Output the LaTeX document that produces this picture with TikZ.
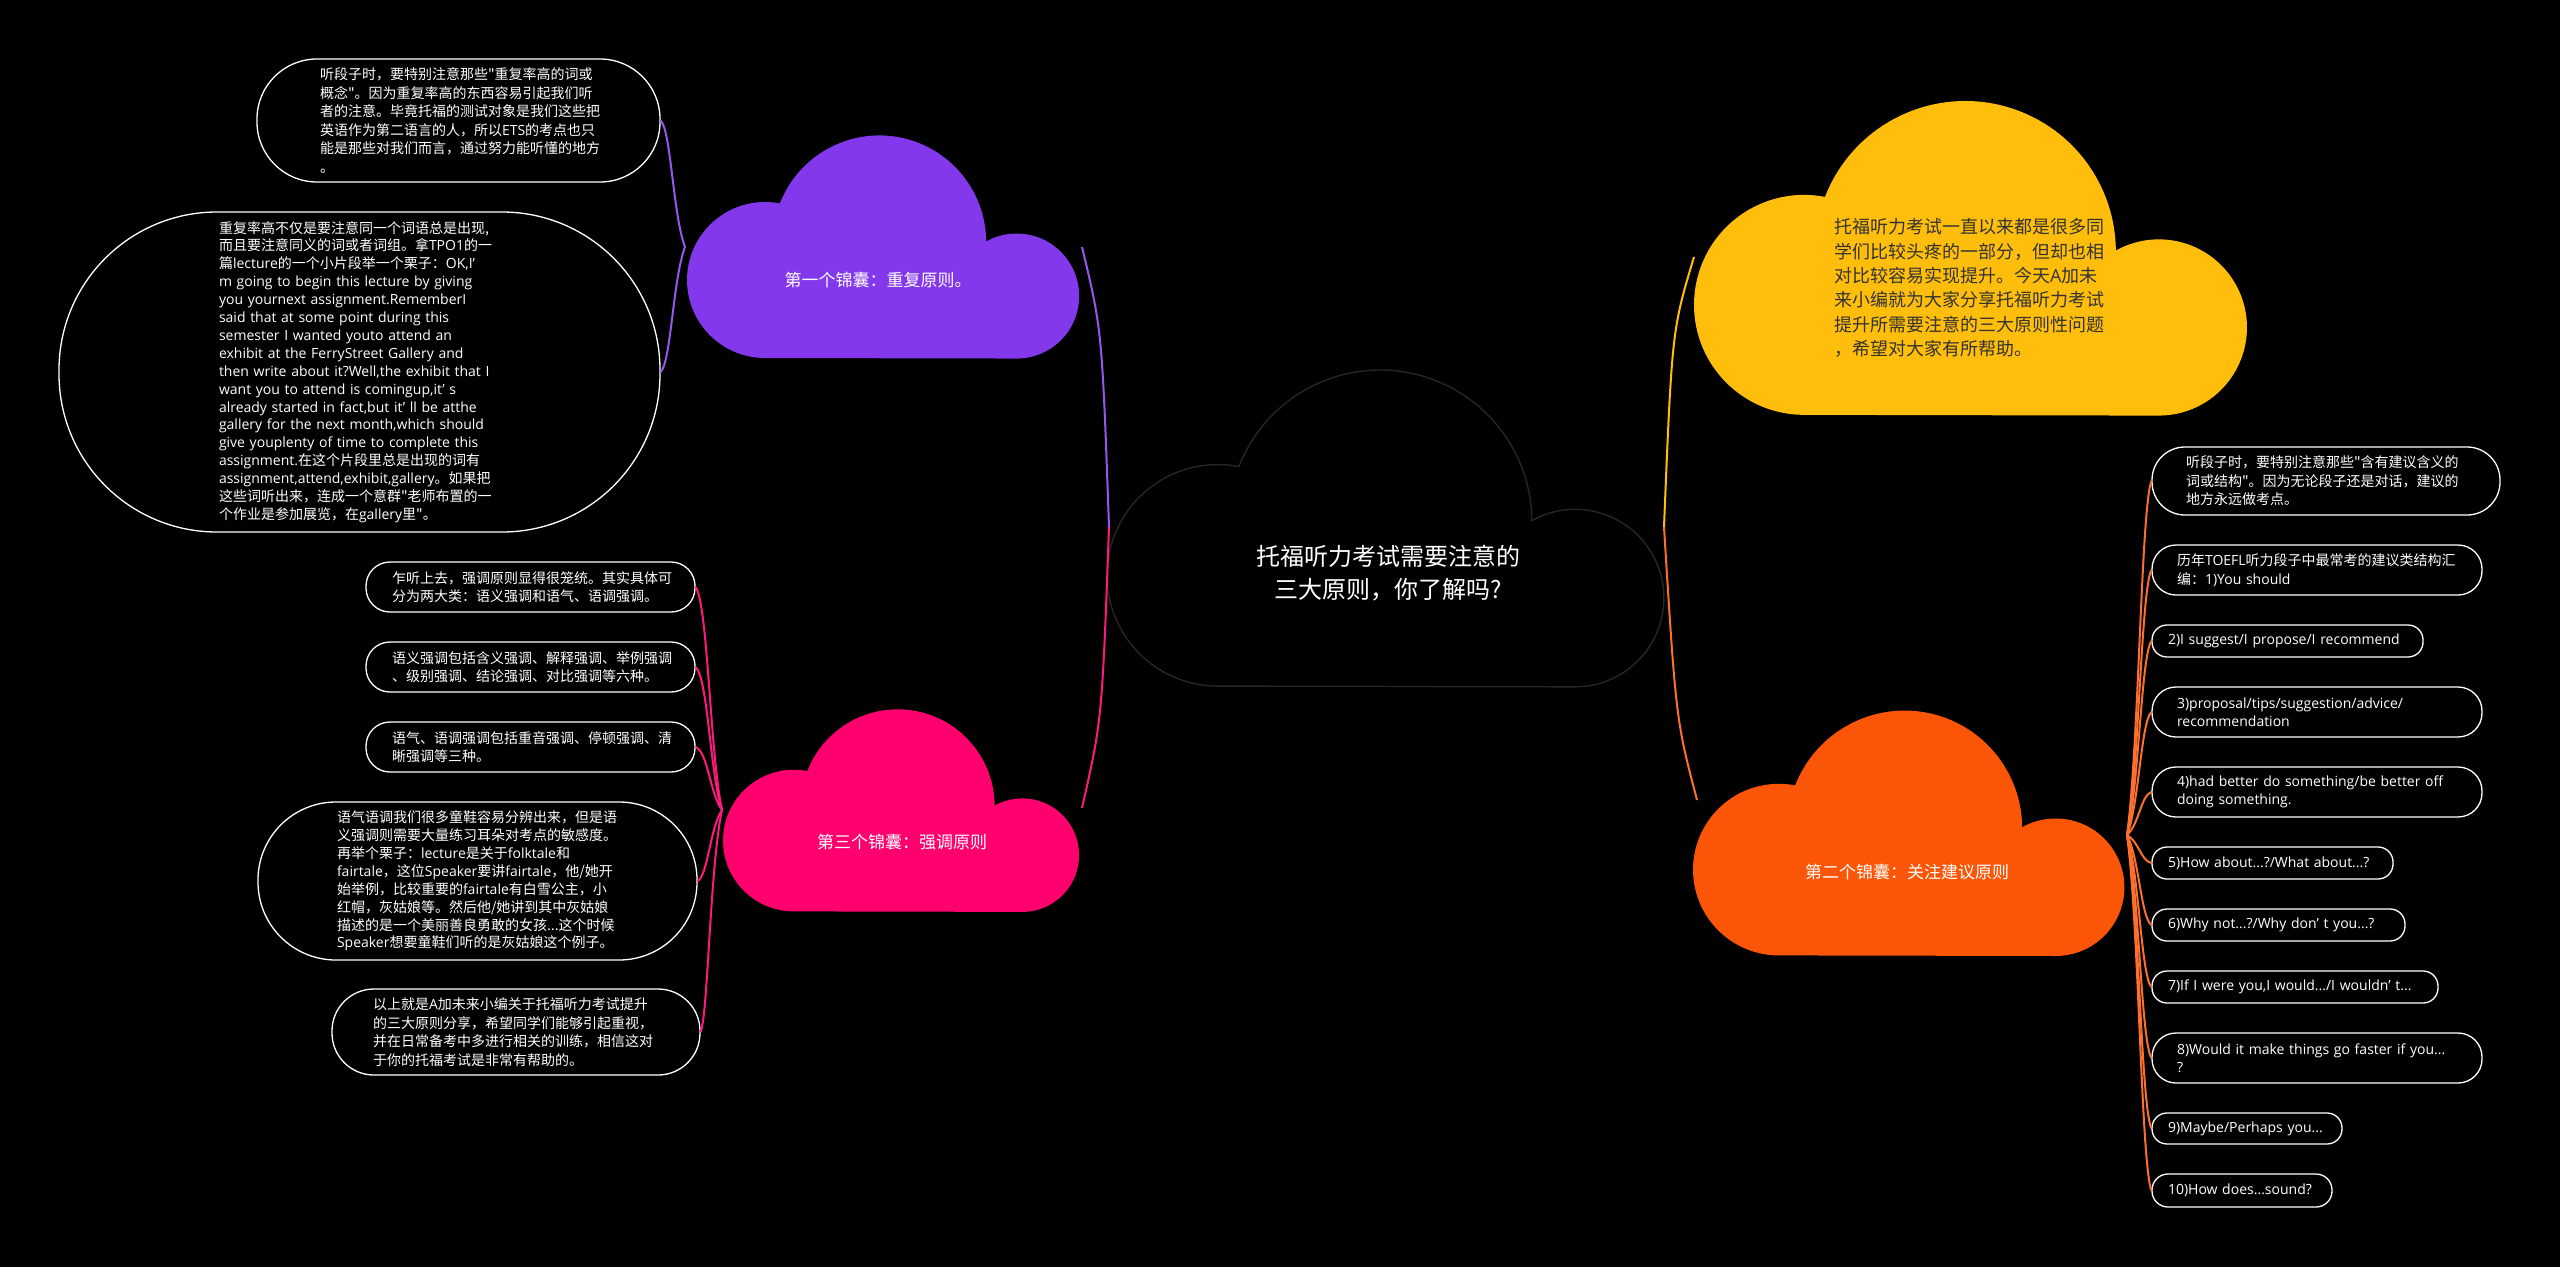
\documentclass[tikz,border=0pt]{standalone}
\usepackage{fontspec}
\newfontfamily\cjkfont{Noto Sans CJK SC}
\newfontfamily\enfont{Open Sans}
\usepackage{tikz}
\usetikzlibrary{calc}

\definecolor{cpurple}{RGB}{131,56,236}
\definecolor{cpink}{RGB}{255,0,110}
\definecolor{cyellow}{RGB}{255,190,11}
\definecolor{corange}{RGB}{251,86,7}
\definecolor{cedge}{RGB}{38,38,38}
\definecolor{cdark}{RGB}{51,51,51}

\newcommand{\cjksize}[2]{\cjkfont\fontsize{#1}{#2}\selectfont}
\newcommand{\enw}[1]{{\enfont #1}}

% cloud in a 393 x 224 frame, #1 #2 = top left, #3 = scale, #4 = options
\newcommand{\cloudat}[4]{%
  \path[#4, shift={(#1,#2)}, scale=#3] (78,224)
    arc[start angle=90, end angle=281, radius=78]
    arc[start angle=201.3, end angle=359.6, radius=106.8]
    arc[start angle=240.8, end angle=450, radius=62.5] -- cycle;}

\begin{document}
\begin{tikzpicture}[x=1pt, y=-1pt,
  leaf/.style={draw=white, line width=1.3pt, text=white, align=left, inner ysep=0pt,
    font=\cjksize{14}{18.5}},
  cloudtext/.style={text=white, align=center, font=\cjksize{17}{22}},
  pulink/.style={draw=cpurple!85!white, line width=2pt},
  pklink/.style={draw=cpink!90!white, line width=2pt},
  yelink/.style={draw=cyellow, line width=2pt},
  orlink/.style={draw=corange!85!white, line width=2pt}]

\fill[black] (0,0) rectangle (2560,1267);
\useasboundingbox (0,0) rectangle (2560,1267);

% clouds
\cloudat{1107}{368}{1.42}{fill=black, draw=cedge, line width=1.4pt}
\cloudat{687}{134}{1}{fill=cpurple}
\cloudat{723}{708}{0.908}{fill=cpink}
\cloudat{1694}{99}{1.41}{fill=cyellow}
\cloudat{1693}{709}{1.1}{fill=corange}

\node[text=white, align=center, font=\cjksize{24}{33}] (root) at (1388,573)
  {托福听力考试需要注意的\\三大原则，你了解吗?};
\node[cloudtext] (pu) at (878,280) {第一个锦囊：重复原则。};
\node[cloudtext] (pk) at (902,842) {第三个锦囊：强调原则};
\node[cloudtext] (or) at (1907,872) {第二个锦囊：关注建议原则};
\node[text=cdark, align=left, anchor=west, inner sep=0pt, font=\cjksize{18}{24.3}] (ye) at (1834,288)
  {托福听力考试一直以来都是很多同\\学们比较头疼的一部分，但却也相\\对比较容易实现提升。今天\enw{A}加未\\来小编就为大家分享托福听力考试\\提升所需要注意的三大原则性问题\\，希望对大家有所帮助。};

% purple leaves
\node[leaf, minimum width=403pt, minimum height=123pt, rounded corners=60pt,
  inner xsep=63pt, text width=277pt] (pu1) at (458.5,120.5)
  {听段子时，要特别注意那些"重复率高的词或\\概念"。因为重复率高的东西容易引起我们听\\者的注意。毕竟托福的测试对象是我们这些把\\英语作为第二语言的人，所以\enw{ETS}的考点也只\\能是那些对我们而言，通过努力能听懂的地方\\。};
\node[leaf, minimum width=601pt, minimum height=320pt, rounded corners=158pt,
  inner xsep=160pt, text width=281pt, font=\cjksize{14}{17.9}] (pu2) at (359.5,372)
  {重复率高不仅是要注意同一个词语总是出现,\\而且要注意同义的词或者词组。拿\enw{TPO1}的一\\篇\enw{lecture}的一个小片段举一个栗子：\enw{OK,I’}\\\enw{m going to begin this lecture by giving}\\\enw{you yournext assignment.RememberI}\\\enw{said that at some point during this}\\\enw{semester I wanted youto attend an}\\\enw{exhibit at the FerryStreet Gallery and}\\\enw{then write about it?Well,the exhibit that I}\\\enw{want you to attend is comingup,it’ s}\\\enw{already started in fact,but it’ ll be atthe}\\\enw{gallery for the next month,which should}\\\enw{give youplenty of time to complete this}\\\enw{assignment.}在这个片段里总是出现的词有\\\enw{assignment,attend,exhibit,gallery}。如果把\\这些词听出来，连成一个意群"老师布置的一\\个作业是参加展览，在\enw{gallery}里"。};

% pink leaves
\node[leaf, minimum width=329pt, minimum height=50pt, rounded corners=24pt,
  inner xsep=26pt, text width=277pt] (pk1) at (530.5,587)
  {乍听上去，强调原则显得很笼统。其实具体可\\分为两大类：语义强调和语气、语调强调。};
\node[leaf, minimum width=329pt, minimum height=50pt, rounded corners=24pt,
  inner xsep=26pt, text width=277pt] (pk2) at (530.5,667)
  {语义强调包括含义强调、解释强调、举例强调\\、级别强调、结论强调、对比强调等六种。};
\node[leaf, minimum width=329pt, minimum height=50pt, rounded corners=24pt,
  inner xsep=26pt, text width=277pt] (pk3) at (530.5,747)
  {语气、语调强调包括重音强调、停顿强调、清\\晰强调等三种。};
\node[leaf, minimum width=439pt, minimum height=158pt, rounded corners=78pt,
  inner xsep=79pt, text width=281pt, font=\cjksize{14}{17.9}] (pk4) at (477.5,881)
  {语气语调我们很多童鞋容易分辨出来，但是语\\义强调则需要大量练习耳朵对考点的敏感度。\\再举个栗子：\enw{lecture}是关于\enw{folktale}和\\\enw{fairtale}，这位\enw{Speaker}要讲\enw{fairtale}，他/她开\\始举例，比较重要的\enw{fairtale}有白雪公主，小\\红帽，灰姑娘等。然后他/她讲到其中灰姑娘\\描述的是一个美丽善良勇敢的女孩...这个时候\\\enw{Speaker}想要童鞋们听的是灰姑娘这个例子。};
\node[leaf, minimum width=368pt, minimum height=86pt, rounded corners=42pt,
  inner xsep=41pt, text width=286pt] (pk5) at (516,1032)
  {以上就是\enw{A}加未来小编关于托福听力考试提升\\的三大原则分享，希望同学们能够引起重视，\\并在日常备考中多进行相关的训练，相信这对\\于你的托福考试是非常有帮助的。};

% orange leaves
\node[leaf, minimum width=348pt, minimum height=68pt, rounded corners=33pt,
  inner xsep=34pt, text width=280pt] (r1) at (2326,481)
  {听段子时，要特别注意那些"含有建议含义的\\词或结构"。因为无论段子还是对话，建议的\\地方永远做考点。};
\node[leaf, minimum width=330pt, minimum height=50pt, rounded corners=24pt,
  inner xsep=25pt, text width=280pt] (r2) at (2317,570)
  {历年\enw{TOEFL}听力段子中最常考的建议类结构汇\\编：\enw{1)You should}};
\node[leaf, minimum width=271pt, minimum height=32pt, rounded corners=15pt,
  inner xsep=16pt, text width=239pt] (r3) at (2287.5,641)
  {\enw{2)I suggest/I propose/I recommend}};
\node[leaf, minimum width=330pt, minimum height=50pt, rounded corners=24pt,
  inner xsep=25pt, text width=280pt] (r4) at (2317,712)
  {\enw{3)proposal/tips/suggestion/advice/}\\\enw{recommendation}};
\node[leaf, minimum width=330pt, minimum height=50pt, rounded corners=24pt,
  inner xsep=25pt, text width=280pt] (r5) at (2317,792)
  {\enw{4)had better do something/be better off}\\\enw{doing something.}};
\node[leaf, minimum width=241pt, minimum height=32pt, rounded corners=15pt,
  inner xsep=16pt, text width=209pt] (r6) at (2272.5,863)
  {\enw{5)How about...?/What about...?}};
\node[leaf, minimum width=253pt, minimum height=32pt, rounded corners=15pt,
  inner xsep=16pt, text width=221pt] (r7) at (2278.5,925)
  {\enw{6)Why not...?/Why don’ t you...?}};
\node[leaf, minimum width=286pt, minimum height=32pt, rounded corners=15pt,
  inner xsep=16pt, text width=254pt] (r8) at (2295,987)
  {\enw{7)If I were you,I would.../I wouldn’ t...}};
\node[leaf, minimum width=330pt, minimum height=50pt, rounded corners=24pt,
  inner xsep=25pt, text width=280pt] (r9) at (2317,1058)
  {\enw{8)Would it make things go faster if you...}\\\enw{?}};
\node[leaf, minimum width=190pt, minimum height=31pt, rounded corners=15pt,
  inner xsep=16pt, text width=158pt] (r10) at (2247,1128.5)
  {\enw{9)Maybe/Perhaps you...}};
\node[leaf, minimum width=180pt, minimum height=33pt, rounded corners=16pt,
  inner xsep=16pt, text width=148pt] (r11) at (2242,1190.5)
  {\enw{10)How does...sound?}};

% connector ends
\coordinate (cl) at (1109,527);
\coordinate (cr) at (1664,527);
\coordinate (pue) at (1082,247);
\coordinate (pke) at (1082,808);
\coordinate (yee) at (1694,257);
\coordinate (ore) at (1697,800);
\coordinate (pub) at (685,247);
\coordinate (pkb) at (722,810);
\coordinate (orb) at (2127,835);

\draw[pulink] (cl) .. controls (1102,330) .. (pue);
\draw[pklink] (cl) .. controls (1102,720) .. (pke);
\draw[yelink] (cr) .. controls (1672,330) .. (yee);
\draw[orlink] (cr) .. controls (1676,720) .. (ore);

\foreach \n in {1,2}
  \draw[pulink] (pub) .. controls ($(pub)!0.25!(pub |- pu\n.east) + (-12,0)$)
    and ($(pub)!0.92!(pub |- pu\n.east) + (-14,0)$) .. (pu\n.east);
\foreach \n in {1,...,5}
  \draw[pklink] (pkb) .. controls ($(pkb)!0.25!(pkb |- pk\n.east) + (-12,0)$)
    and ($(pkb)!0.92!(pkb |- pk\n.east) + (-14,0)$) .. (pk\n.east);
\foreach \n in {1,...,11}
  \draw[orlink] (orb) .. controls ($(orb)!0.25!(orb |- r\n.west) + (12,0)$)
    and ($(orb)!0.92!(orb |- r\n.west) + (14,0)$) .. (r\n.west);

\end{tikzpicture}
\end{document}
